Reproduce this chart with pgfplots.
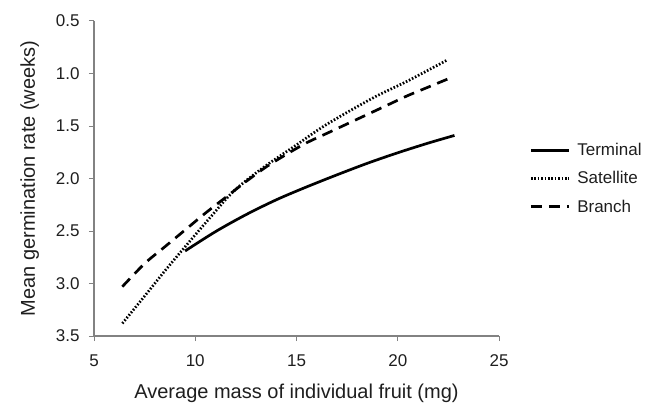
\documentclass[border=0pt]{standalone}
\usepackage{pgfplots}
\pgfplotsset{compat=1.18}
\usepackage{fontspec}
\setmainfont{Liberation Sans}
\definecolor{axgray}{RGB}{130,130,130}
\definecolor{txt}{RGB}{30,30,30}
\begin{document}
\begin{tikzpicture}[x=1pt,y=1pt]
\useasboundingbox (0,0) rectangle (647,403);
\begin{axis}[
  at={(94pt,67pt)}, anchor=south west,
  scale only axis, width=405pt, height=315pt,
  xmin=5, xmax=25, ymin=0.5, ymax=3.5,
  y dir=reverse,
  axis x line*=bottom, axis y line*=left,
  axis line style={axgray, line width=1.2pt},
  xtick={5,10,15,20,25},
  ytick={0.5,1.0,1.5,2.0,2.5,3.0,3.5},
  yticklabel style={/pgf/number format/fixed, /pgf/number format/fixed zerofill, /pgf/number format/precision=1, xshift=-6pt},
  tick align=outside, major tick length=5pt,
  tick style={axgray, line width=1pt},
  /pgf/number format/assume math mode=true,
  ticklabel style={font=\fontsize{17}{20}\selectfont, text=txt},
  xticklabel style={yshift=-10pt},
  xlabel={Average mass of individual fruit (mg)},
  ylabel={Mean germination rate (weeks)},
  label style={font=\fontsize{20}{24}\selectfont, text=txt},
  xlabel style={yshift=-11pt},
  ylabel style={yshift=10pt},
  legend style={at={(1.075,0.5)}, anchor=west, draw=none, fill=none,
    font=\fontsize{17}{20}\selectfont, text=txt,
    row sep=10.5pt, inner sep=0pt},
  legend cell align=left,
  legend image code/.code={\draw[#1] (0pt,0pt) -- (38pt,0pt); \path (43pt,0pt);},
]
\addplot[black, line width=2.7pt, smooth] coordinates {
 (9.5,2.69) (11,2.506) (12.5,2.345) (14,2.203) (15.5,2.08) (17,1.965)
 (18.5,1.855) (20,1.755) (21.5,1.663) (22.8,1.59)};
\addlegendentry{Terminal}
\addplot[black, line width=2.7pt, dash pattern=on 1.6pt off 1.8pt, smooth] coordinates {
 (6.4,3.38) (7.5,3.12) (8.5,2.88) (9.5,2.65) (10.7,2.38) (11.9,2.12)
 (13.4,1.89) (15,1.68) (16.2,1.52) (17.5,1.37) (19,1.21) (20.5,1.07) (22.46,0.87)};
\addlegendentry{Satellite}
\addplot[black, line width=2.7pt, dash pattern=on 11pt off 7pt, smooth] coordinates {
 (6.4,3.03) (7.5,2.81) (8.5,2.65) (9.5,2.49) (10.5,2.33) (11.5,2.18) (12.5,2.03)
 (13.5,1.89) (14.5,1.77) (15.5,1.66) (16.5,1.57) (17.5,1.48) (18.5,1.39)
 (19.5,1.30) (20.5,1.21) (21.5,1.13) (22.5,1.05)};
\addlegendentry{Branch}
\end{axis}
\end{tikzpicture}
\end{document}
